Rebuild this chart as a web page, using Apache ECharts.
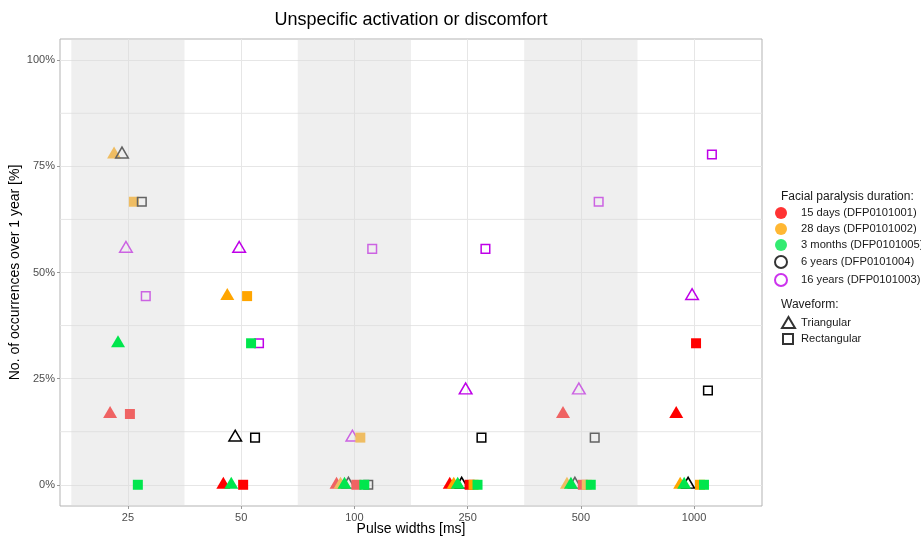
<!DOCTYPE html>
<html>
<head>
<meta charset="utf-8">
<script src="https://cdn.jsdelivr.net/npm/echarts@6/dist/echarts.min.js"></script>
<style>
  html, body { margin: 0; padding: 0; background: #fff; }
  #chart { width: 921px; height: 536px; }
</style>
</head>
<body>
<div id="chart"></div>
<script>
// Pulse widths tested (ms), one column each
const pulseWidths = ['25', '50', '100', '250', '500', '1000'];

// Share of sessions with unspecific activation or discomfort (%), per pulse width
const red15dTri   = [16.67, 0, 0, 0, 16.67, 16.67];
const orange28dTri = [77.78, 44.44, 0, 0, 0, 0];
const green3mTri  = [33.33, 0, 0, 0, 0, 0];
const black6yTri  = [77.78, 11.11, 0, 0, 0, 0];
const purple16yTri = [55.56, 55.56, 11.11, 22.22, 22.22, 44.44];

const red15dRect   = [16.67, 0, 0, 0, 0, 33.33];
const orange28dRect = [66.67, 44.44, 11.11, 0, 0, 0];
const green3mRect  = [0, 33.33, 0, 0, 0, 0];
const black6yRect  = [66.67, 11.11, 0, 11.11, 11.11, 22.22];
const purple16yRect = [44.44, 33.33, 55.56, 55.56, 66.67, 77.78];

// Patients and waveforms
const patients = ['15 days (DFP0101001)', '28 days (DFP0101002)', '3 months (DFP0101005)', '6 years (DFP0101004)', '16 years (DFP0101003)'];
const waveforms = ['Triangular', 'Rectangular'];

// Axis ticks
const yMajorTicks = [0, 25, 50, 75, 100];
const yMinorTicks = [12.5, 37.5, 62.5, 87.5];
const shadedColumns = [0, 2, 4];

const FONT = 'Liberation Sans, Arial, sans-serif';
const patientColors = ['#FF0000', '#FFA500', '#00E64D', '#000000', '#BF00E8'];
const hollow = [false, false, false, true, true];

const triValues = [red15dTri, orange28dTri, green3mTri, black6yTri, purple16yTri];
const rectValues = [red15dRect, orange28dRect, green3mRect, black6yRect, purple16yRect];

const dodgeStep = 0.035; // side-by-side spread of the ten groups inside a column

const series = [];

// minor horizontal grid lines
series.push({
  type: 'custom',
  z: 1,
  silent: true,
  data: yMinorTicks.map(v => [v]),
  renderItem: function (params, api) {
    const a = api.coord([-0.6, api.value(0)]);
    const b = api.coord([5.6, api.value(0)]);
    return { type: 'line', shape: { x1: a[0], y1: a[1], x2: b[0], y2: b[1] },
             style: { stroke: '#E6E6E6', lineWidth: 1 } };
  }
});

function pointSeries(name, values, shapeIdx, patientIdx, groupIdx) {
  const isTri = shapeIdx === 0;
  const col = patientColors[patientIdx];
  const open = hollow[patientIdx];
  const offset = (groupIdx - 4.5) * dodgeStep;
  let size;
  if (isTri) size = open ? [12.6, 10.8] : [14, 12];
  else size = open ? [8.6, 8.6] : [10, 10];
  return {
    name: name,
    type: 'scatter',
    z: patientIdx === 2 ? 4 : 2,
    silent: true,
    symbol: isTri ? 'triangle' : 'rect',
    symbolSize: size,
    symbolOffset: isTri ? [0, -2] : [0, 0],
    itemStyle: open
      ? { color: 'rgba(0,0,0,0)', borderColor: col, borderWidth: 1.5, opacity: 1 }
      : { color: col, borderWidth: 0, opacity: 1 },
    data: values.map((v, i) => [i + offset, v])
  };
}

for (let p = 0; p < 5; p++) {
  series.push(pointSeries(patients[p] + ' / ' + waveforms[0], triValues[p], 0, p, p));
}
for (let p = 0; p < 5; p++) {
  series.push(pointSeries(patients[p] + ' / ' + waveforms[1], rectValues[p], 1, p, p + 5));
}

// translucent shading over alternate pulse-width columns
series.push({
  type: 'custom',
  z: 3,
  silent: true,
  data: shadedColumns.map(c => [c]),
  renderItem: function (params, api) {
    const c = api.value(0);
    const p0 = api.coord([c - 0.5, 105]);
    const p1 = api.coord([c + 0.5, -5]);
    return { type: 'rect', shape: { x: p0[0], y: p0[1], width: p1[0] - p0[0], height: p1[1] - p0[1] },
             style: { fill: 'rgba(220,220,220,0.45)' } };
  }
});

// legend entries (no data of their own)
for (let p = 0; p < 5; p++) {
  series.push({
    name: patients[p], type: 'scatter', data: [], symbol: 'circle',
    itemStyle: hollow[p]
      ? { color: '#FFFFFF', borderColor: patientColors[p], borderWidth: 2 }
      : { color: patientColors[p] }
  });
}
series.push({ name: waveforms[0], type: 'scatter', data: [], symbol: 'triangle',
  itemStyle: { color: '#FFFFFF', borderColor: '#000', borderWidth: 1.6 } });
series.push({ name: waveforms[1], type: 'scatter', data: [], symbol: 'rect',
  itemStyle: { color: '#FFFFFF', borderColor: '#000', borderWidth: 1.6 } });

const legendText = { fontFamily: FONT, fontSize: 11.2, color: '#1A1A1A', lineHeight: 12, padding: [0, 0, 0, 4] };
const shapeLegendText = { fontFamily: FONT, fontSize: 11.2, color: '#1A1A1A', lineHeight: 12, padding: [0, 0, 0, 1] };

const option = {
  animation: false,
  backgroundColor: '#FFFFFF',
  textStyle: { fontFamily: FONT },
  grid: {
    left: 60, right: 159, top: 39, bottom: 30,
    outerBoundsMode: 'none', containLabel: false,
    show: true, borderColor: '#B3B3B3', borderWidth: 1, backgroundColor: '#FFFFFF'
  },
  xAxis: {
    type: 'value', min: -0.6, max: 5.6,
    name: 'Pulse widths [ms]', nameLocation: 'middle', nameGap: 16, nameMoveOverlap: false,
    nameTextStyle: { fontFamily: FONT, fontSize: 14, color: '#000' },
    axisLine: { show: false, onZero: false },
    axisTick: { show: true, length: 3, customValues: [0, 1, 2, 3, 4, 5], lineStyle: { color: '#999' } },
    axisLabel: { customValues: [0, 1, 2, 3, 4, 5], margin: 6, fontFamily: FONT, fontSize: 11, color: '#4D4D4D',
      formatter: v => pulseWidths[Math.round(v)] },
    splitLine: { show: true, lineStyle: { color: '#E6E6E6', width: 1 } }
  },
  yAxis: {
    type: 'value', min: -5, max: 105,
    name: 'No. of occurrences over 1 year [%]', nameLocation: 'middle', nameGap: 38, nameMoveOverlap: false,
    nameTextStyle: { fontFamily: FONT, fontSize: 14, color: '#000' },
    axisLine: { show: false, onZero: false },
    axisTick: { show: true, length: 3, customValues: yMajorTicks, lineStyle: { color: '#999' } },
    axisLabel: { customValues: yMajorTicks, margin: 5, fontFamily: FONT, fontSize: 11, color: '#4D4D4D',
      formatter: v => v + '%' },
    splitLine: { show: true, lineStyle: { color: '#E6E6E6', width: 1 } }
  },
  legend: [
    {
      data: patients, orient: 'vertical', left: 774, top: 207,
      itemWidth: 22, itemHeight: 12, itemGap: 4, icon: 'circle',
      textStyle: legendText, selectedMode: false, padding: 0
    },
    {
      data: [waveforms[0]], orient: 'vertical', left: 781, top: 316,
      itemWidth: 13, itemHeight: 11, itemGap: 4,
      textStyle: shapeLegendText, selectedMode: false, padding: 0
    },
    {
      data: [waveforms[1]], orient: 'vertical', left: 782, top: 333,
      itemWidth: 10, itemHeight: 10, itemGap: 4,
      textStyle: Object.assign({}, shapeLegendText, { padding: [0, 0, 0, 3] }), selectedMode: false, padding: 0
    }
  ],
  graphic: [
    { type: 'text', x: 411, y: 20, silent: true,
      style: { text: 'Unspecific activation or discomfort', fontFamily: FONT, fontSize: 18, fill: '#000',
               align: 'center', verticalAlign: 'middle' } },
    { type: 'text', x: 781, y: 197, silent: true,
      style: { text: 'Facial paralysis duration:', fontFamily: FONT, fontSize: 12, fill: '#1A1A1A',
               align: 'left', verticalAlign: 'middle' } },
    { type: 'text', x: 781, y: 305, silent: true,
      style: { text: 'Waveform:', fontFamily: FONT, fontSize: 12, fill: '#1A1A1A',
               align: 'left', verticalAlign: 'middle' } }
  ],
  series: series
};

const chart = echarts.init(document.getElementById('chart'), null, { renderer: 'canvas' });
chart.setOption(option);
</script>
</body>
</html>
